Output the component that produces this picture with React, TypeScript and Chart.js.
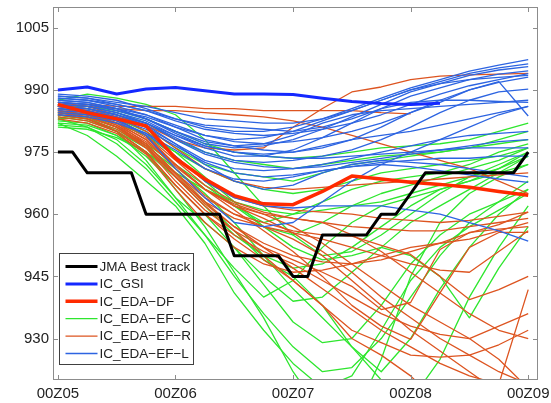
import React, { useEffect, useRef } from "react";
import { Chart, registerables } from "chart.js";

Chart.register(...registerables);

// ---------- data ----------
const HOURS = [0, 6, 12, 18, 24, 30, 36, 42, 48, 54, 60, 66, 72, 78, 84, 90, 96];
const BEST_HOURS = [0, 3, 6, 9, 12, 15, 18, 21, 24, 27, 30, 33, 36, 39, 42, 45, 48, 51, 54, 57, 60, 63, 66, 69, 72, 75, 78, 81, 84, 87, 90, 93, 96];
const BEST_TRACK = [975, 975, 970, 970, 970, 970, 960, 960, 960, 960, 960, 960, 950, 950, 950, 950, 945, 945, 955, 955, 955, 955, 960, 960, 965, 970, 970, 970, 970, 970, 970, 970, 975];

const IC_GSI = [990, 990.7, 989, 990.2, 990.6, 989.8, 989, 989, 988.9, 988, 987.2, 986.7, 986.5, 986.8];
const IC_EDA_DF = [986.5, 984.5, 983, 981.3, 973.5, 968.5, 964.5, 962.5, 962.3, 965.5, 969.2, 968.5, 967.7, 967.2, 966.5, 965.5, 964.6];

const EF_C: (number | null)[][] = [
  [987.5, 989.0, 988.0, 986.5, 984.0, 978.0, 970.0, 962.0, 955.0, 950.0, 951.0, 955.0, 960.0, 965.0, 969.0, 972.0, 975.0],
  [983.0, 981.0, 977.0, 971.0, 963.0, 955.0, 945.0, 936.0, 928.0, 922.0, 923.0, 930.0, 940.0, 950.0, 958.0, 963.0, 968.0],
  [984.0, 983.0, 980.0, 975.0, 966.0, 957.0, 946.0, 935.0, 922.0, 912.0, 910.0, 925.0, 945.0, 958.0, 965.0, 969.0, 972.0],
  [981.5, 981.0, 978.0, 972.0, 964.0, 958.0, 952.0, 945.0, 939.0, 940.0, 946.0, 952.0, 958.0, 962.0, 966.0, 970.0, 974.0],
  [985.0, 984.0, 981.0, 977.0, 972.0, 967.0, 962.0, 957.0, 955.0, 958.0, 962.0, 965.0, 967.0, 969.0, 971.0, 973.0, 976.0],
  [986.0, 985.5, 984.0, 981.0, 976.0, 972.0, 970.0, 969.0, 968.0, 970.0, 972.0, 973.0, 974.0, 975.0, 976.0, 977.0, 978.0],
  [982.5, 982.0, 979.0, 974.0, 967.0, 960.0, 952.0, 943.0, 934.0, 929.0, 930.0, 938.0, 948.0, 955.0, 960.0, 963.0, 966.0],
  [984.5, 984.0, 982.0, 979.0, 975.0, 971.0, 968.0, 966.0, 965.0, 966.0, 968.0, 970.0, 971.0, 972.0, 973.0, 974.0, 976.0],
  [983.5, 982.5, 980.0, 976.0, 970.0, 963.0, 956.0, 949.0, 945.0, 938.0, 928.0, 922.0, 930.0, 942.0, 952.0, 960.0, 966.0],
  [986.5, 986.0, 984.5, 982.0, 978.0, 975.0, 973.0, 972.0, 971.0, 972.0, 973.0, 974.0, 974.5, 975.0, 976.0, 978.0, 980.0],
  [982.0, 981.5, 979.0, 975.0, 969.0, 962.0, 955.0, 950.0, 947.0, 948.0, 952.0, 957.0, 962.0, 966.0, 968.0, 970.0, 972.0],
  [985.5, 985.0, 983.0, 980.0, 975.0, 969.0, 963.0, 957.0, 952.0, 949.0, 950.0, 952.0, 950.0, 945.0, 935.0, 947.0, 957.0],
  [983.0, 983.5, 982.0, 979.0, 974.0, 968.0, 962.0, 958.0, 960.0, 963.0, 966.0, 968.0, 969.0, 970.0, 972.0, 975.0, 977.0],
  [984.0, 983.0, 980.5, 976.5, 971.0, 965.0, 958.0, 950.0, 942.0, 935.0, 928.0, 920.0, 915.0, 925.0, 940.0, 952.0, 962.0],
  [981.0, 980.5, 978.5, 975.0, 970.0, 966.0, 963.0, 961.0, 960.0, 961.0, 962.0, 963.0, 965.0, 967.0, 969.0, 971.0, 974.0],
  [986.0, 986.0, 985.0, 983.0, 980.0, 977.0, 975.0, 974.0, 973.5, 974.0, 975.0, 976.0, 976.5, 977.0, 978.0, 980.0, 982.0],
  [982.0, 979.0, 974.0, 968.0, 962.0, 953.0, 941.0, 932.0, 924.0, 918.0, 921.0, 932.0, 944.0, 952.0, 957.0, 961.0, 965.0],
  [984.5, 983.5, 980.0, 973.0, 964.0, 955.0, 947.0, 940.0, 944.0, 952.0, 958.0, 962.0, 964.0, 966.0, 968.0, 971.0, 975.0],
];

const EF_R: (number | null)[][] = [
  [986.0, 985.0, 983.5, 981.5, 978.0, 976.0, 975.5, 976.0, 981.0, 985.5, 989.5, 990.7, 992.5, 993.3, 993.6, 993.8, 994.0],
  [987.0, 986.5, 986.0, 986.0, 986.0, 985.5, 985.5, 985.0, 985.0, 985.0, 985.0, 984.5, 984.2, null, null, null, null],
  [986.5, 986.0, 985.5, 985.0, 985.0, 984.5, 984.0, 983.5, 982.5, 981.0, 979.0, 977.0, 975.0, 973.0, 971.0, 968.0, 965.0],
  [985.5, 984.5, 982.0, 977.0, 970.0, 964.0, 960.0, 958.0, 956.0, 955.0, 954.7, 952.5, 950.3, 945.0, 939.4, 941.8, 945.0],
  [984.5, 983.5, 981.0, 976.0, 968.0, 961.0, 956.0, 952.0, 949.0, 946.0, 942.6, 937.0, 938.7, 951.5, 955.6, 956.4, 957.0],
  [986.0, 985.0, 983.0, 979.0, 972.0, 966.0, 961.0, 956.0, 951.0, 945.0, 938.0, 933.0, 929.8, 941.0, 952.0, 955.6, 955.6],
  [984.0, 983.0, 980.0, 975.0, 967.0, 960.0, 954.0, 949.0, 944.0, 938.0, 932.0, 929.0, 926.0, 925.5, 926.0, 928.5, 932.0],
  [985.0, 984.0, 981.5, 976.5, 969.0, 962.0, 956.0, 950.0, 944.0, 938.0, 930.0, 926.0, 921.0, 914.0, 910.0, 908.0, 906.0],
  [986.5, 985.5, 983.5, 980.0, 974.0, 968.0, 964.0, 962.0, 961.0, 960.5, 960.0, 959.0, 958.5, 958.0, 958.5, 959.5, 960.5],
  [985.0, 984.0, 982.0, 978.0, 972.0, 966.0, 962.0, 960.0, 959.0, 958.0, 957.0, 956.5, 956.0, 956.0, 957.0, 958.0, 959.0],
  [984.0, 983.0, 980.5, 976.0, 969.0, 963.0, 959.0, 957.0, 955.5, 954.0, 952.0, 950.0, 948.0, 946.5, 946.0, 951.0, 956.0],
  [983.5, 982.5, 980.0, 975.0, 967.0, 960.0, 955.0, 951.0, 948.0, 944.0, 940.0, 936.0, 933.0, 931.0, 930.0, 933.0, 936.0],
  [985.5, 984.5, 982.5, 978.5, 972.0, 966.0, 962.5, 960.0, 957.0, 953.0, 948.0, 943.0, 938.0, 934.0, 930.0, 925.0, 918.0],
  [984.5, 983.5, 981.0, 977.0, 970.0, 963.0, 957.0, 952.0, 947.0, 942.0, 937.0, 932.0, 928.0, 924.0, 921.0, 919.0, 941.8],
  [987.0, 986.0, 984.0, 981.0, 976.0, 971.0, 968.0, 966.5, 966.0, 966.5, 967.0, 967.5, 968.0, 968.5, 969.0, 969.5, 970.0],
  [985.0, 984.0, 981.5, 977.5, 971.5, 966.0, 962.0, 959.0, 955.5, 951.0, 946.0, 940.0, 935.0, 930.0, 926.0, 922.0, 919.0],
  [983.0, 982.0, 979.5, 974.5, 966.0, 958.0, 952.0, 948.0, 946.0, 946.5, 948.0, 950.0, 952.0, 953.0, 954.0, 956.0, 958.0],
  [986.0, 985.0, 983.0, 979.0, 973.0, 967.0, 963.0, 960.5, 959.0, 958.0, 955.0, 951.0, 946.0, 941.0, 936.0, 932.0, 930.0],
  [984.5, 983.5, 981.0, 976.5, 969.5, 962.5, 957.0, 953.0, 950.0, 948.5, 948.0, 949.0, 951.0, 953.0, 955.5, 957.5, 960.5],
  [985.5, 984.5, 982.0, 978.0, 971.0, 964.5, 960.0, 957.0, 954.0, 950.0, 944.0, 938.0, 932.0, 927.0, 922.0, 917.0, 913.0],
];

const EF_L: (number | null)[][] = [
  [989.0, 988.5, 987.5, 985.5, 983.0, 981.0, 980.0, 980.0, 981.0, 983.0, 985.5, 988.0, 990.5, 992.5, 994.5, 996.0, 997.3],
  [988.0, 987.5, 986.0, 984.0, 981.0, 979.0, 978.0, 978.5, 980.0, 982.5, 985.0, 987.5, 990.0, 992.0, 994.0, 995.3, 996.3],
  [987.5, 987.0, 985.5, 983.0, 980.0, 977.0, 976.0, 976.5, 978.0, 980.5, 983.5, 986.5, 989.5, 991.5, 993.5, 994.8, 995.6],
  [986.5, 986.0, 984.5, 982.5, 979.0, 976.0, 974.0, 974.0, 975.5, 978.5, 982.0, 985.5, 988.5, 990.5, 992.5, 993.8, 994.6],
  [988.5, 988.0, 986.5, 985.0, 982.5, 980.5, 979.5, 979.0, 979.5, 980.5, 982.0, 984.0, 986.5, 989.0, 991.0, 992.5, 993.9],
  [987.0, 986.5, 985.0, 983.5, 981.0, 978.0, 976.5, 975.5, 975.0, 976.0, 978.0, 981.0, 984.5, 987.5, 990.0, 991.8, 993.1],
  [986.0, 985.5, 984.0, 982.0, 978.5, 975.0, 973.0, 972.5, 973.0, 974.0, 975.5, 978.0, 981.0, 984.5, 987.5, 989.5, 990.2],
  [988.0, 987.5, 986.5, 985.0, 983.0, 981.5, 981.0, 980.5, 980.0, 981.0, 983.0, 985.5, 987.0, 987.5, 987.5, 987.2, 987.0],
  [987.0, 986.5, 985.5, 984.0, 981.5, 979.0, 977.5, 977.0, 977.5, 978.5, 980.0, 982.0, 984.5, 987.0, 990.0, 992.0, 983.7],
  [985.5, 985.0, 983.5, 981.0, 977.0, 973.0, 971.0, 970.5, 971.0, 972.0, 973.5, 975.0, 976.5, 978.0, 979.0, 979.5, 980.0],
  [986.5, 986.0, 984.5, 982.0, 978.0, 974.5, 972.5, 971.5, 971.0, 971.5, 972.5, 973.5, 974.5, 975.5, 976.5, 977.5, 978.0],
  [987.5, 987.0, 985.5, 983.0, 979.5, 976.5, 975.0, 974.0, 973.5, 973.5, 974.0, 974.5, 975.0, 975.5, 976.0, 976.0, 976.0],
  [985.0, 984.5, 983.0, 980.5, 976.5, 972.5, 970.0, 969.0, 969.5, 970.5, 971.5, 972.5, 973.0, 973.5, 973.5, 974.0, 974.0],
  [986.0, 985.5, 984.0, 981.5, 977.0, 972.0, 968.0, 966.0, 967.0, 970.0, 972.0, 973.0, 972.5, 972.0, 971.0, 970.0, 969.0],
  [984.5, 984.0, 982.5, 979.5, 974.0, 968.0, 964.0, 962.0, 961.5, 962.0, 962.0, 962.0, 961.0, 960.0, 958.0, 956.0, 953.5],
  [985.5, 985.0, 983.0, 979.0, 971.0, 964.0, 958.0, 957.0, 958.0, 963.0, 968.0, 972.0, 975.0, 978.0, 981.0, 984.0, 986.0],
  [988.5, 988.0, 987.0, 986.0, 984.5, 983.0, 982.5, 982.0, 982.0, 983.0, 985.0, 987.5, 990.0, 991.5, 992.5, 993.0, 993.5],
  [987.0, 986.5, 985.0, 983.0, 980.0, 977.5, 976.5, 977.0, 979.0, 982.0, 984.0, 985.0, 985.5, 986.0, 986.5, 987.0, 987.5],
  [986.0, 985.5, 984.0, 982.0, 979.0, 976.5, 975.0, 974.5, 975.0, 976.5, 978.0, 979.0, 980.0, 981.5, 983.0, 984.5, 986.0],
  [984.0, 983.5, 982.0, 979.5, 975.5, 971.0, 968.5, 968.0, 969.0, 970.5, 971.5, 972.0, 971.5, 970.5, 969.5, 968.5, 967.7],
];

const X_TICKS = [0, 24, 48, 72, 96];
const X_TICK_LABELS = ["00Z05", "00Z06", "00Z07", "00Z08", "00Z09"];
const Y_TICKS = [930, 945, 960, 975, 990, 1005];
const LEGEND_LABELS = ["JMA Best track", "IC_GSI", "IC_EDA\u2212DF", "IC_EDA\u2212EF\u2212C", "IC_EDA\u2212EF\u2212R", "IC_EDA\u2212EF\u2212L"];

// ---------- styles ----------
const C_BLACK = "#000000";
const C_GSI = "#1428ff";
const C_DF = "#ff2a00";
const C_C = "#2ee62e";
const C_R = "#dd5420";
const C_L = "#2d64e1";
const MEMBER_W = 1.3;
const LEGEND_STYLES = [
  { color: C_BLACK, width: 3 },
  { color: C_GSI, width: 3 },
  { color: C_DF, width: 3.5 },
  { color: C_C, width: MEMBER_W },
  { color: C_R, width: MEMBER_W },
  { color: C_L, width: MEMBER_W },
];
const FONT = "'Liberation Sans', Arial, Helvetica, sans-serif";

function toPoints(hours: number[], values: (number | null)[]) {
  const pts: { x: number; y: number }[] = [];
  values.forEach((v, i) => {
    if (v !== null && v !== undefined) pts.push({ x: hours[i], y: v });
  });
  return pts;
}

function line(data: any, color: string, width: number) {
  return {
    data,
    borderColor: color,
    backgroundColor: color,
    borderWidth: width,
    pointRadius: 0,
    tension: 0,
    fill: false,
    borderJoinStyle: "round" as const,
  };
}

const framePlugin = {
  id: "frameTicks",
  afterDatasetsDraw(chart: any) {
    const { ctx, chartArea } = chart;
    const xs = chart.scales.x;
    const ys = chart.scales.y;
    const { left, right, top, bottom } = chartArea;
    ctx.save();
    ctx.strokeStyle = "#8c8c8c";
    ctx.lineWidth = 1;
    ctx.strokeRect(Math.round(left) + 0.5, Math.round(top) + 0.5, Math.round(right - left) - 1, Math.round(bottom - top) - 1);
    const tl = 5;
    ctx.beginPath();
    X_TICKS.forEach((v) => {
      const px = Math.round(xs.getPixelForValue(v)) + 0.5;
      ctx.moveTo(px, bottom);
      ctx.lineTo(px, bottom - tl);
      ctx.moveTo(px, top);
      ctx.lineTo(px, top + tl);
    });
    Y_TICKS.forEach((v) => {
      const py = Math.round(ys.getPixelForValue(v)) + 0.5;
      ctx.moveTo(left, py);
      ctx.lineTo(left + tl, py);
      ctx.moveTo(right, py);
      ctx.lineTo(right - tl, py);
    });
    ctx.stroke();
    ctx.restore();
  },
  afterDraw(chart: any) {
    const { ctx, chartArea } = chart;
    const bw = 134;
    const bh = 111;
    const bx = Math.round(chartArea.left + 6) + 0.5;
    const by = Math.round(chartArea.bottom - 16 - bh) + 0.5;
    ctx.save();
    ctx.fillStyle = "#ffffff";
    ctx.fillRect(bx, by, bw, bh);
    ctx.strokeStyle = "#404040";
    ctx.lineWidth = 1;
    ctx.strokeRect(bx, by, bw, bh);
    ctx.font = `13.5px ${FONT}`;
    ctx.textBaseline = "middle";
    ctx.textAlign = "left";
    LEGEND_LABELS.forEach((label, i) => {
      const cy = by + 13 + i * 17.4;
      const st = LEGEND_STYLES[i];
      ctx.beginPath();
      ctx.strokeStyle = st.color;
      ctx.lineWidth = st.width;
      ctx.moveTo(bx + 6, cy);
      ctx.lineTo(bx + 38, cy);
      ctx.stroke();
      ctx.fillStyle = "#222222";
      ctx.fillText(label, bx + 40, cy + 0.5);
    });
    ctx.restore();
  },
};

export default function App() {
  const ref = useRef<HTMLCanvasElement | null>(null);

  useEffect(() => {
    if (!ref.current) return;
    const datasets: any[] = [];
    datasets.push(line(toPoints(BEST_HOURS, BEST_TRACK), C_BLACK, 3));
    datasets.push(line(toPoints(HOURS, IC_EDA_DF), C_DF, 3.5));
    datasets.push(line(toPoints(HOURS, IC_GSI), C_GSI, 3));
    EF_L.forEach((m) => datasets.push(line(toPoints(HOURS, m), C_L, MEMBER_W)));
    EF_R.forEach((m) => datasets.push(line(toPoints(HOURS, m), C_R, MEMBER_W)));
    EF_C.forEach((m) => datasets.push(line(toPoints(HOURS, m), C_C, MEMBER_W)));

    const chart = new Chart(ref.current, {
      type: "line",
      data: { datasets },
      options: {
        animation: false,
        responsive: false,
        parsing: false as any,
        normalized: true,
        layout: { padding: { left: 0, top: 7, right: 13, bottom: 0 } },
        plugins: { legend: { display: false }, tooltip: { enabled: false } },
        scales: {
          x: {
            type: "linear",
            min: -1,
            max: 98,
            grid: { display: false, drawTicks: false },
            border: { display: false },
            afterBuildTicks: (s: any) => {
              s.ticks = X_TICKS.map((v) => ({ value: v }));
            },
            afterFit: (s: any) => {
              s.height = 23;
              s.paddingLeft = 0;
              s.paddingRight = 0;
            },
            ticks: {
              autoSkip: false,
              maxRotation: 0,
              padding: 5,
              color: "#222222",
              font: { family: FONT, size: 15 },
              callback: (v: any) => {
                const i = X_TICKS.indexOf(Number(v));
                return i >= 0 ? X_TICK_LABELS[i] : "";
              },
            },
          },
          y: {
            type: "linear",
            min: 920,
            max: 1010,
            grid: { display: false, drawTicks: false },
            border: { display: false },
            afterBuildTicks: (s: any) => {
              s.ticks = Y_TICKS.map((v) => ({ value: v }));
            },
            afterFit: (s: any) => {
              s.width = 53;
              s.paddingTop = 0;
              s.paddingBottom = 0;
            },
            ticks: {
              autoSkip: false,
              padding: 4,
              color: "#222222",
              font: { family: FONT, size: 15 },
              callback: (v: any) => String(v),
            },
          },
        },
      },
      plugins: [framePlugin],
    });
    return () => chart.destroy();
  }, []);

  return (
    <div style={{ position: "absolute", left: 0, top: 0, width: 551, height: 403, background: "#fff" }}>
      <canvas ref={ref} width={551} height={403} style={{ display: "block" }} />
    </div>
  );
}
